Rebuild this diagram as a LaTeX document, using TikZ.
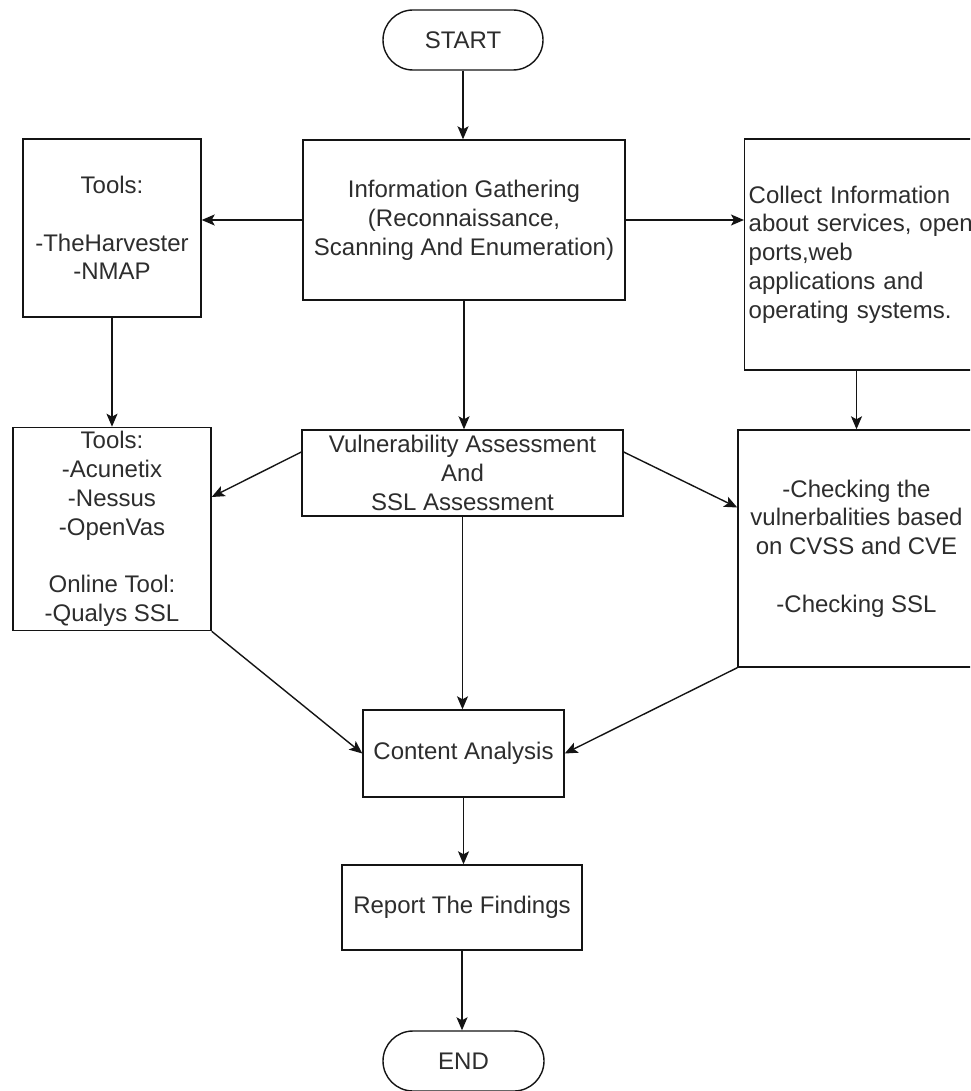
\documentclass[tikz,border=0pt]{standalone}
\usepackage{fontspec}
\setmainfont{Liberation Sans}
\usetikzlibrary{arrows.meta,calc}
\definecolor{txt}{RGB}{45,45,45}
\definecolor{ln}{RGB}{20,20,20}
\begin{document}
\begin{tikzpicture}[x=1pt,y=-1pt,
  box/.style={draw=ln,line width=1.4pt,rectangle,inner sep=4pt,align=center,text=txt,
    font=\fontsize{24}{28.8}\selectfont},
  term/.style={box,rounded corners=30pt},
  arr/.style={draw=ln,line width=1.4pt,-{Stealth[length=13pt,width=11pt,inset=3pt]}}]
\useasboundingbox (0,0) rectangle (970,1091);
\clip (0,0) rectangle (970,1091);
\fill[white] (0,0) rectangle (970,1091);

\node[term,minimum width=160pt,minimum height=60pt] (start) at (463,40) {START};
\node[box,minimum width=322pt,minimum height=160pt] (info) at (464,220)
  {Information Gathering\\(Reconnaissance,\\Scanning And Enumeration)};
\node[box,minimum width=178pt,minimum height=178pt] (tools) at (112,228)
  {Tools:\\[28.8pt]-TheHarvester\\-NMAP};
\node[box,minimum height=231pt,text width=300pt,align=left,anchor=west] (coll) at (744,254.5)
  {Collect Information\\about services, open\\ports,web\\applications and\\operating systems.};
\node[box,minimum width=237pt,minimum height=237pt] (chk) at (856.5,548.5)
  {-Checking the\\vulnerbalities based\\on CVSS and CVE\\[28.8pt]-Checking SSL};
\node[box,minimum width=198pt,minimum height=198pt] (acu) at (112,529)
  {Tools:\\-Acunetix\\-Nessus\\-OpenVas\\[28.8pt]Online Tool:\\-Qualys SSL};
\node[box,minimum width=321pt,minimum height=86pt] (vuln) at (462.5,473)
  {Vulnerability Assessment\\And\\SSL Assessment};
\node[box,minimum width=201pt,minimum height=87pt] (cont) at (463.5,753.5) {Content Analysis};
\node[box,minimum width=240pt,minimum height=85pt] (rep) at (462,907.5) {Report The Findings};
\node[term,minimum width=161pt,minimum height=60pt] (end) at (463.5,1061) {END};

\draw[arr] (start.south) -- (start.south |- info.north);
\draw[arr] (info.west) -- (info.west -| tools.east);
\draw[arr] (info.east) -- (info.east -| coll.west);
\draw[arr] (tools.south) -- (acu.north);
\draw[arr] (info.south) -- (info.south |- vuln.north);
\draw[arr] (chk.north |- coll.south) -- (chk.north);
\draw[arr] ([yshift=21pt]vuln.west) -- ([yshift=32pt]acu.east);
\draw[arr] ([yshift=21pt]vuln.east) -- ([yshift=41pt]chk.west);
\draw[arr] (vuln.south) -- (vuln.south |- cont.north);
\draw[arr] (acu.south east) -- (cont.west);
\draw[arr] (chk.south west) -- (cont.east);
\draw[arr] (cont.south) -- (cont.south |- rep.north);
\draw[arr] (rep.south) -- (rep.south |- end.north);
\end{tikzpicture}
\end{document}
